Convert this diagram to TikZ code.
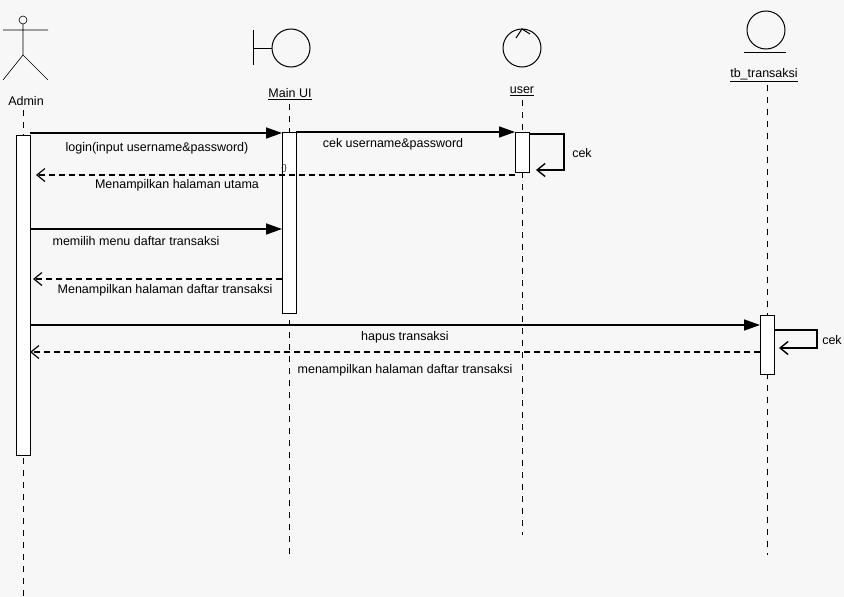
\documentclass[tikz,border=0pt]{standalone}
\usepackage{fontspec}
\setmainfont{Liberation Sans}
\usetikzlibrary{arrows.meta}
\begin{document}
\begin{tikzpicture}[x=1pt,y=-1pt,line width=1pt,
  lbl/.style={font=\fontsize{12.5}{14}\selectfont,inner sep=1pt},
  life/.style={dashed,line width=0.6pt,dash pattern=on 6pt off 6pt},
  act/.style={draw,fill=white,line width=1pt},
  msg/.style={line width=1.6pt,-{Triangle[length=16pt,width=11pt]}},
  ret/.style={line width=1.2pt,dash pattern=on 6pt off 4pt,-{Straight Barb[length=8pt,width=13pt]}},
  self/.style={line width=1.4pt,-{Straight Barb[length=8pt,width=13pt]}}]
\fill[black!3] (0,0) rectangle (844,597);
\useasboundingbox (0,0) rectangle (844,597);
% Admin actor
\draw[line width=0.6pt] (23,20) circle (4);
\draw[line width=0.6pt] (23,24)--(23,55) (3,30)--(48,30) (23,55)--(3,80) (23,55)--(48,80);
\node[lbl] (admin) at (26,101) {Admin};
\draw[life] (23,110)--(23,597);
% Main UI boundary
\draw (253,30)--(253,65) (253,48)--(272,48);
\draw (291,48) circle (19);
\node[lbl] (mainui) at (290,94) {\underline{Main UI}};
\draw[life] (289,104)--(289,555);
% user control
\draw (522,48) circle (19);
\draw (516,38)--(522,29)--(530,34);
\node[lbl] (user) at (522,91) {\underline{user}};
\draw[life] (522,100)--(522,535);
% tb_transaksi entity
\draw (766,30) circle (19);
\draw (744,52)--(786,52);
\node[lbl] (tb) at (764,75) {\underline{tb\_transaksi}};
\draw[life] (767,85)--(767,555);
% activations
\node[act,minimum width=14pt,minimum height=320pt,inner sep=0pt] (aA) at (23,295) {};
\node[act,minimum width=14pt,minimum height=181pt,inner sep=0pt] (aM) at (289,222.5) {};
\node[act,minimum width=14pt,minimum height=40pt,inner sep=0pt] (aU) at (522,152) {};
\node[act,minimum width=14pt,minimum height=59pt,inner sep=0pt] (aT) at (767,344.5) {};
% messages
\draw[msg] (30,133)--(282,133);
\node[lbl] (m1) at (157,148) {login(input username\&password)};
\draw[msg] (296,132)--(515,132);
\node[lbl] (m2) at (393,144) {cek username\&password};
\draw[self] (529,134)--(564,134)--(564,170)--(536,170);
\node[lbl] (c1) at (582,153) {cek};
\draw[ret] (515,175)--(36,175);
\node[lbl] (m3) at (177,185) {Menampilkan halaman utama};
\node[font=\fontsize{8}{8}\selectfont,inner sep=0pt] (br) at (284,168) {\{\}};
\draw[msg] (30,229)--(282,229);
\node[lbl] (m4) at (136,241) {memilih menu daftar transaksi};
\draw[ret] (282,279)--(33,279);
\node[lbl] (m5) at (165,290) {Menampilkan halaman daftar transaksi};
\draw[msg] (30,325)--(760,325);
\node[lbl] (m6) at (405,337) {hapus transaksi};
\draw[self] (774,330)--(817,330)--(817,348)--(779,348);
\node[lbl] (c2) at (832,340) {cek};
\draw[ret] (760,352)--(30,352);
\node[lbl] (m7) at (405,370) {menampilkan halaman daftar transaksi};
\end{tikzpicture}
\end{document}
